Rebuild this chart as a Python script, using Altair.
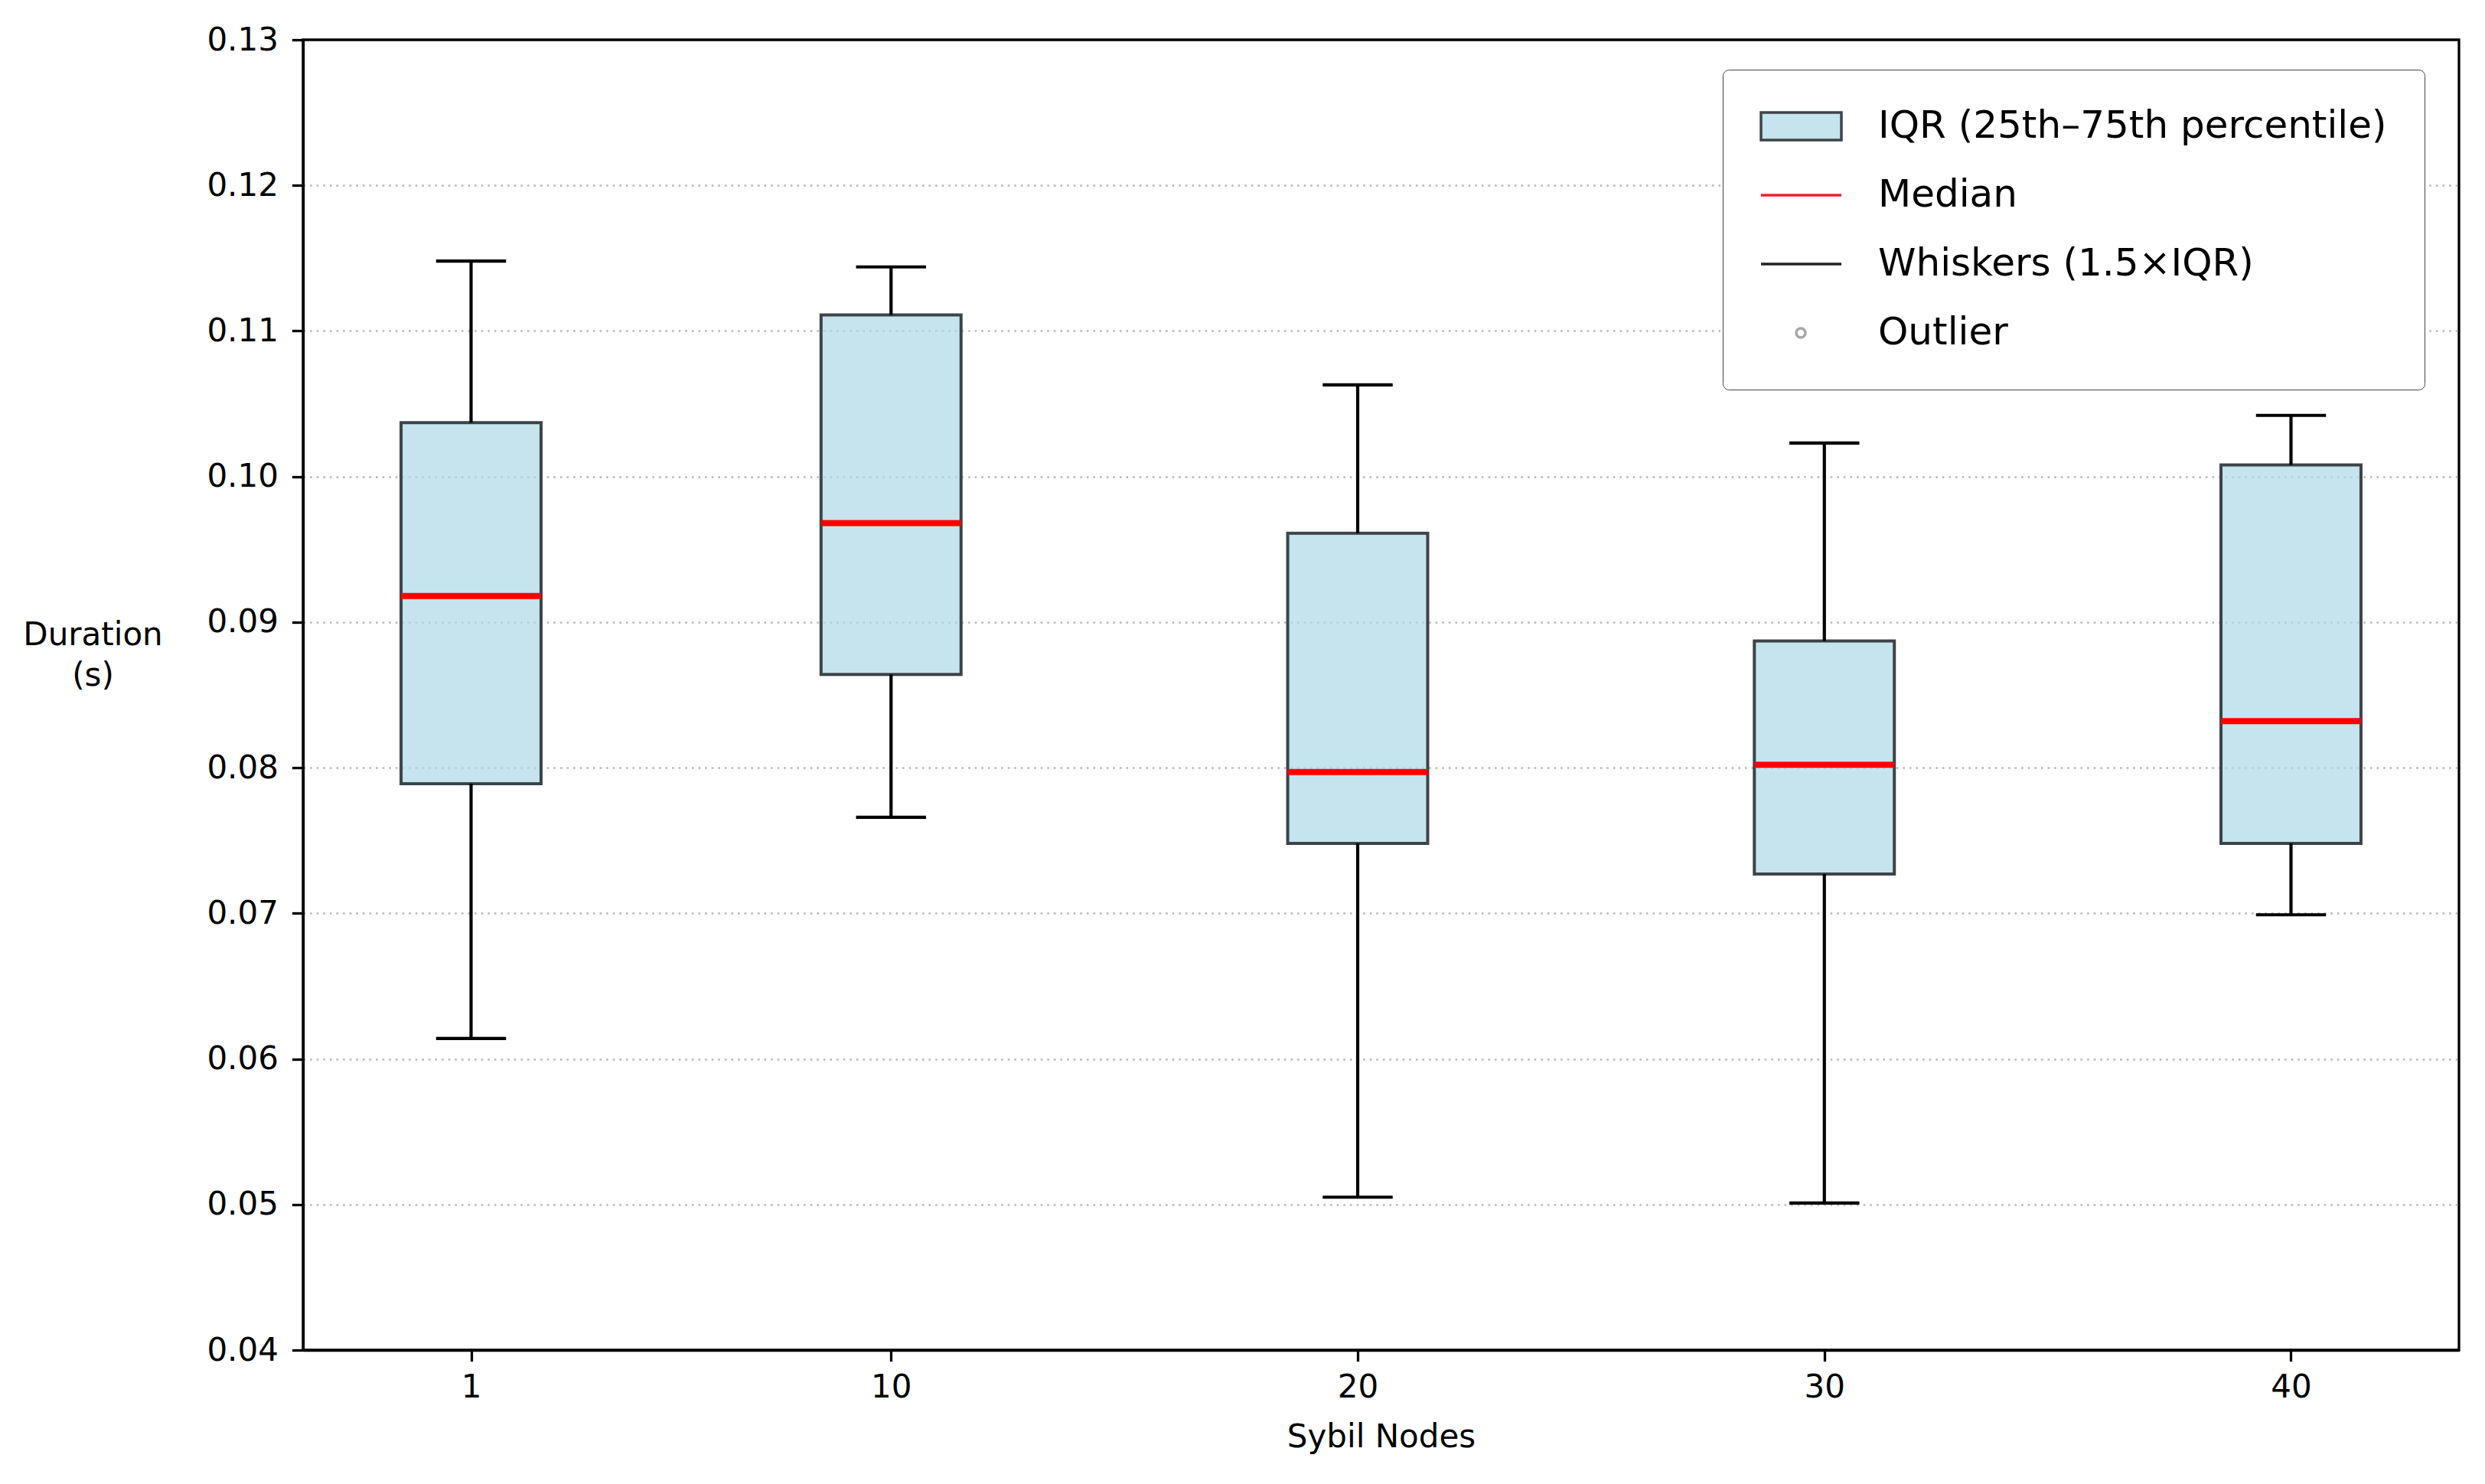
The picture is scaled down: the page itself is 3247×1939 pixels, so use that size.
import altair as alt
import pandas as pd

# ---- data ----
nodes = [1, 10, 20, 30, 40]
whisker_low = [0.0614, 0.0766, 0.0505, 0.0501, 0.0699]
q1 = [0.0789, 0.0864, 0.0748, 0.0727, 0.0748]
median = [0.0918, 0.0968, 0.0797, 0.0802, 0.0832]
q3 = [0.1037, 0.1111, 0.0961, 0.0887, 0.1008]
whisker_high = [0.1148, 0.1144, 0.1063, 0.1023, 0.1042]

y_ticks = [0.04, 0.05, 0.06, 0.07, 0.08, 0.09, 0.10, 0.11, 0.12, 0.13]

legend_labels = [
    "IQR (25th\u201375th percentile)",
    "Median",
    "Whiskers (1.5\u00d7IQR)",
    "Outlier",
]

df = pd.DataFrame({
    "nodes": nodes, "low": whisker_low, "q1": q1, "med": median,
    "q3": q3, "high": whisker_high,
})
legend_df = pd.DataFrame({"label": legend_labels})

FONT = "DejaVu Sans"
BOX_HALF = 1.5
CAP_HALF = 0.75

xscale = alt.Scale(domain=[-2.6, 43.6], nice=False, zero=False)
yscale = alt.Scale(domain=[0.04, 0.13], nice=False, zero=False)

x_axis = alt.Axis(values=nodes, title="Sybil Nodes", grid=False, format="d")
y_axis = alt.Axis(
    values=y_ticks, format=".2f", grid=True,
    gridOpacity={"condition": {"test": "datum.value < 0.0405 || datum.value > 0.1295",
                               "value": 0}, "value": 1},
    title=["Duration", "(s)"], titleAngle=0,
    titleAlign="center", titleBaseline="alphabetic",
    titleX=-275, titleY=790, titleLineHeight=53,
)

base = alt.Chart(df).transform_calculate(
    bx1=f"datum.nodes - {BOX_HALF}", bx2=f"datum.nodes + {BOX_HALF}",
    cx1=f"datum.nodes - {CAP_HALF}", cx2=f"datum.nodes + {CAP_HALF}",
)

boxes = base.mark_rect(fill="#add8e6", fillOpacity=0.7, stroke="#3c4448",
                       strokeWidth=4).encode(
    x=alt.X("bx1:Q", scale=xscale, axis=x_axis),
    x2="bx2:Q",
    y=alt.Y("q1:Q", scale=yscale, axis=y_axis),
    y2="q3:Q",
)

whisk_lo = base.mark_rule(color="black", strokeWidth=4.2).encode(
    x=alt.X("nodes:Q", scale=xscale), y=alt.Y("low:Q", scale=yscale), y2="q1:Q")
whisk_hi = base.mark_rule(color="black", strokeWidth=4.2).encode(
    x=alt.X("nodes:Q", scale=xscale), y=alt.Y("q3:Q", scale=yscale), y2="high:Q")
cap_lo = base.mark_rule(color="black", strokeWidth=4.2).encode(
    x=alt.X("cx1:Q", scale=xscale), x2="cx2:Q", y=alt.Y("low:Q", scale=yscale))
cap_hi = base.mark_rule(color="black", strokeWidth=4.2).encode(
    x=alt.X("cx1:Q", scale=xscale), x2="cx2:Q", y=alt.Y("high:Q", scale=yscale))
med = base.mark_rule(color="#ff0000", strokeWidth=8).encode(
    x=alt.X("bx1:Q", scale=xscale), x2="bx2:Q", y=alt.Y("med:Q", scale=yscale))

shape_paths = [
    "M-1.2,-0.9L4.05,-0.9L4.05,0.9L-1.2,0.9Z",
    "M-1.2,0L4.05,0",
    "M-1.2,0L4.05,0",
    "M1.1,0A0.3,0.3 0 1,0 1.7,0A0.3,0.3 0 1,0 1.1,0",
]
fills = ["#c5e4ed", "transparent", "transparent", "transparent"]
strokes = ["#3c4448", "#e3262b", "#222222", "#a8a8a8"]

leg = alt.Legend(
    title=None, orient="none", legendX=1855, legendY=39,
    padding=49, cornerRadius=8, strokeColor="#444444", fillColor="white",
    labelFont=FONT, labelFontSize=50, labelColor="black", labelLimit=2000,
    symbolSize=1600, symbolStrokeWidth=3.5, symbolOpacity=1,
    labelOffset=104, rowPadding=40,
)

legend_layer = alt.Chart(legend_df).transform_filter("false").mark_point(
    filled=False, opacity=1).encode(
    shape=alt.Shape("label:N", scale=alt.Scale(domain=legend_labels, range=shape_paths), legend=leg),
    fill=alt.Fill("label:N", scale=alt.Scale(domain=legend_labels, range=fills), legend=leg),
    stroke=alt.Stroke("label:N", scale=alt.Scale(domain=legend_labels, range=strokes), legend=leg),
)

chart = alt.layer(boxes, whisk_lo, whisk_hi, cap_lo, cap_hi, med, legend_layer).properties(
    width=2817, height=1712,
    autosize=alt.AutoSizeParams(type="none"),
    padding={"left": 388, "top": 44, "right": 26, "bottom": 150},
).configure_view(
    stroke="black", strokeWidth=3.3
).configure_axis(
    labelFont=FONT, labelFontSize=42, labelColor="black",
    titleFont=FONT, titleFontSize=42, titleFontWeight="normal", titleColor="black",
    domainColor="black", domainWidth=3.3, tickColor="black", tickWidth=3.3,
    tickSize=14.6, labelPadding=14, gridColor="#b8b8b8", gridWidth=2.6,
    gridDash=[2.6, 6],
).configure_axisX(
    titlePadding=24
).configure_axisY(
    labelPadding=18
)

chart.save("out.html", embed_options={"renderer": "svg", "actions": False})
